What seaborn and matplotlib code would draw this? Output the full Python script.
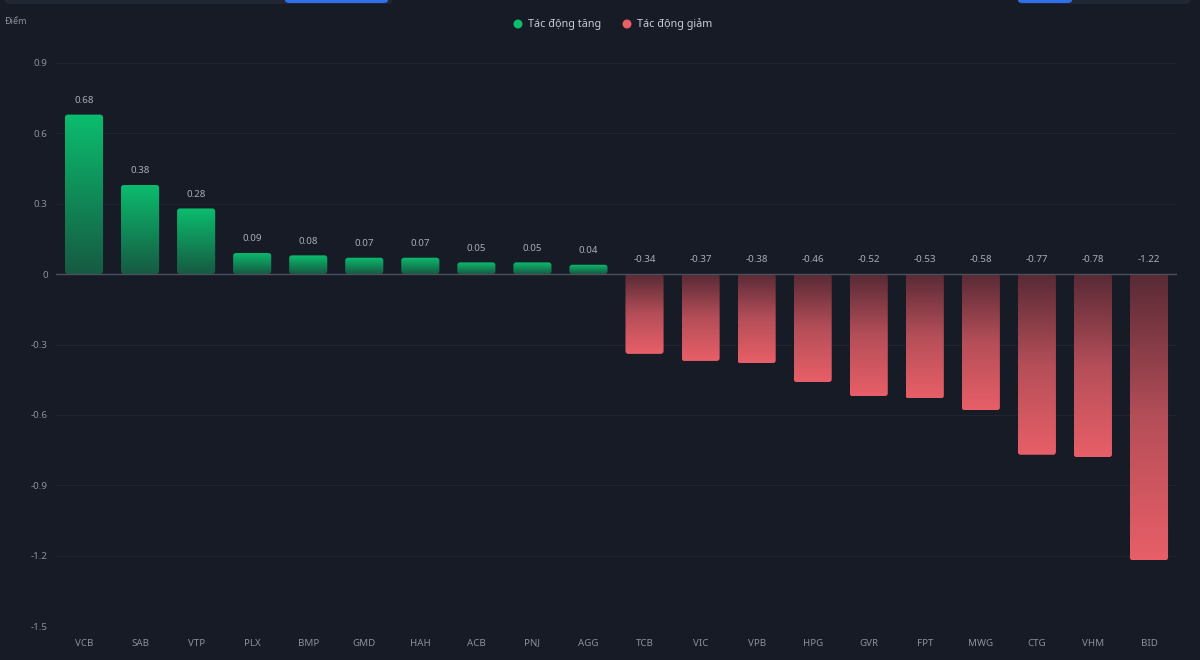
import numpy as np
import pandas as pd
import matplotlib
matplotlib.use("Agg")
import matplotlib.pyplot as plt
from matplotlib.patches import FancyBboxPatch, Circle
from matplotlib.colors import LinearSegmentedColormap
import seaborn as sns

categories = ["VCB", "SAB", "VTP", "PLX", "BMP", "GMD", "HAH", "ACB", "PNJ", "AGG",
              "TCB", "VIC", "VPB", "HPG", "GVR", "FPT", "MWG", "CTG", "VHM", "BID"]
values = [0.68, 0.38, 0.28, 0.09, 0.08, 0.07, 0.07, 0.05, 0.05, 0.04,
          -0.34, -0.37, -0.38, -0.46, -0.52, -0.53, -0.58, -0.77, -0.78, -1.22]
yticks = [0.9, 0.6, 0.3, 0, -0.3, -0.6, -0.9, -1.2, -1.5]
ytick_labels = ["0.9", "0.6", "0.3", "0", "-0.3", "-0.6", "-0.9", "-1.2", "-1.5"]
legend_labels = ["Tác động tăng", "Tác động giảm"]
y_title = "Điểm"

BG = "#161b26"
GREEN_TOP, GREEN_BOT = "#0bbd6e", "#165a42"
RED_TOP, RED_BOT = "#582a35", "#e85f68"
TXT = "#8b909b"

sns.set_theme(style="dark")
plt.rcParams["font.family"] = ["Noto Sans", "DejaVu Sans"]

fig = plt.figure(figsize=(12, 6.6), dpi=100, facecolor=BG)
ax = fig.add_axes([56 / 1200, 1 - 626 / 660, (1177 - 56) / 1200, (626 - 63) / 660])
ax.set_facecolor(BG)

df = pd.DataFrame({"cat": categories, "val": values,
                   "grp": [legend_labels[0] if v >= 0 else legend_labels[1] for v in values]})
sns.barplot(data=df, x="cat", y="val", hue="grp", dodge=False, width=0.68,
            palette={legend_labels[0]: "#0bbd6e", legend_labels[1]: "#e85f68"},
            legend=False, ax=ax, saturation=1)

ax.set_ylim(-1.5, 0.9)
ax.set_xlim(-0.5, len(categories) - 0.5)

# gradient bars with rounded corners
x_px = 1121 / 20
y_px = 563 / 2.4
aspect = x_px / y_px
green_cmap = LinearSegmentedColormap.from_list("g", [GREEN_BOT, GREEN_TOP])
red_cmap = LinearSegmentedColormap.from_list("r", [RED_BOT, "#b44e58", RED_TOP])
patches = list(ax.patches)
for p in patches:
    x0, w = p.get_x(), p.get_width()
    y0, h = p.get_y(), p.get_height()
    if h == 0:
        p.remove()
        continue
    ylo, yhi = min(y0, y0 + h), max(y0, y0 + h)
    positive = ylo >= -1e-9
    p.remove()
    fb = FancyBboxPatch((x0, ylo), w, yhi - ylo,
                        boxstyle="round,pad=0,rounding_size=0.05",
                        mutation_aspect=aspect, facecolor="none", edgecolor="none")
    ax.add_patch(fb)
    grad = np.linspace(0, 1, 256).reshape(-1, 1)
    cmap = green_cmap if positive else red_cmap
    img = ax.imshow(grad, extent=(x0, x0 + w, ylo, yhi), origin="lower",
                    cmap=cmap, aspect="auto", zorder=2)
    img.set_clip_path(fb)

ax.set_xlim(-0.5, len(categories) - 0.5)
ax.set_ylim(-1.5, 0.9)

# value labels
for i, v in enumerate(values):
    anchor = v if v >= 0 else 0
    ax.annotate(f"{v:.2f}", (i, anchor), xytext=(0, 7), textcoords="offset points",
                ha="center", va="bottom", fontsize=7, color="#a9adb6")

# grid and axes styling
for t in yticks:
    if t != 0:
        ax.axhline(t, color="#1f2431", lw=0.8, zorder=0)
ax.axhline(0, color="#4b505c", lw=1.0, zorder=3)
ax.grid(False)
ax.set_yticks(yticks)
ax.set_yticklabels(ytick_labels)
ax.tick_params(axis="y", colors=TXT, labelsize=7, length=0, pad=6)
ax.tick_params(axis="x", colors=TXT, labelsize=7, length=0, pad=9)
for s in ax.spines.values():
    s.set_visible(False)
ax.set_xlabel("")
ax.set_ylabel("")

fig.text(5 / 1200, 1 - 22 / 660, y_title, fontsize=6.5, color=TXT, ha="left", va="center")

# legend
ly = 1 - 24 / 660
for cx, col, lab in [(518, "#10b96b", legend_labels[0]), (627, "#e85f68", legend_labels[1])]:
    fig.patches.append(Circle((cx / 100, (660 - 24) / 100), 0.045, transform=fig.dpi_scale_trans,
                              facecolor=col, edgecolor="none"))
    fig.text((cx + 10) / 1200, ly, lab, fontsize=7.8, color="#c9ccd3", ha="left", va="center")

# partially visible UI controls at top edge
def top_box(x0, x1, h, color):
    fig.patches.append(FancyBboxPatch((x0 / 1200, 1 - h / 660), (x1 - x0) / 1200, (h + 6) / 660,
                                      boxstyle="round,pad=0,rounding_size=0.004",
                                      transform=fig.transFigure, facecolor=color, edgecolor="none"))
top_box(5, 392, 4, "#222734")
top_box(285, 388, 3, "#2f6fea")
top_box(1018, 1190, 4, "#222734")
top_box(1018, 1072, 3, "#2f6fea")

fig.savefig("out.png", dpi=100, facecolor=BG)
